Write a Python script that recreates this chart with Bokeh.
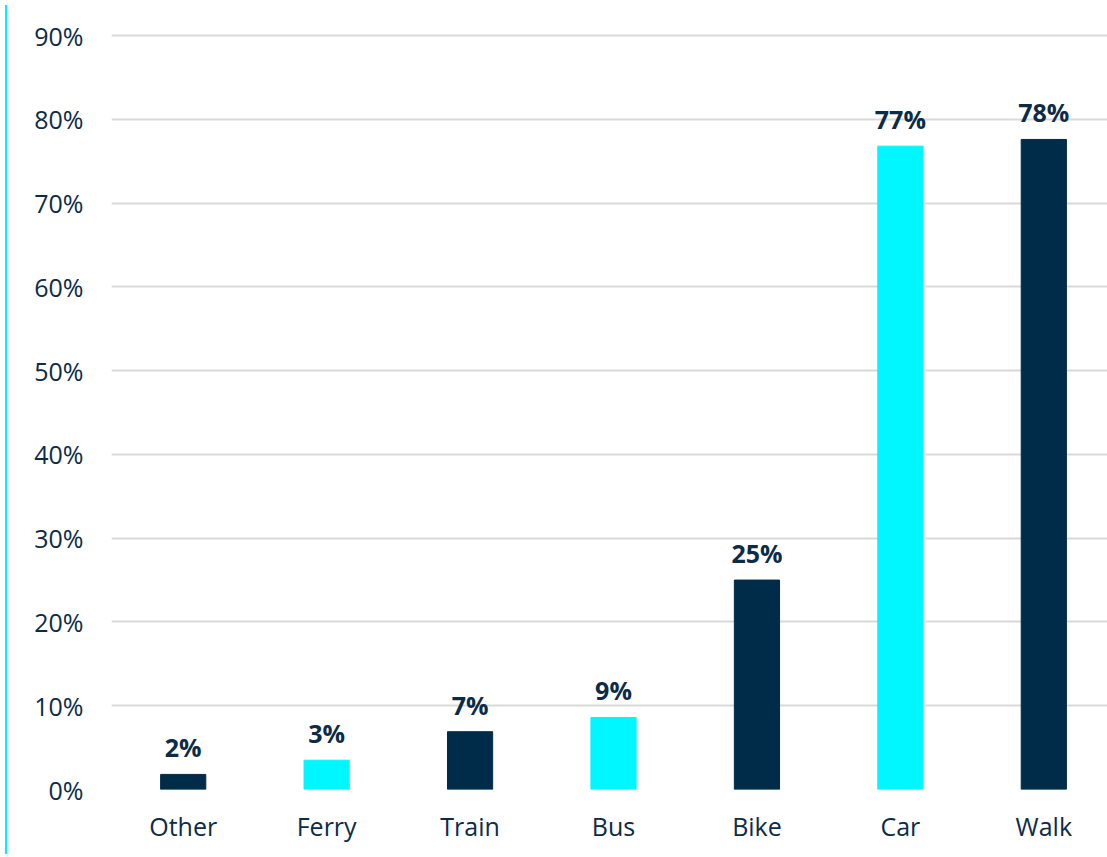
from bokeh.plotting import figure
from bokeh.models import Range1d, FixedTicker, Div, ColumnDataSource
from bokeh.layouts import row
from bokeh.embed import file_html
from bokeh.resources import INLINE
from bokeh.core.properties import value

categories = ["Other", "Ferry", "Train", "Bus", "Bike", "Car", "Walk"]
shares = [1.8, 3.5, 6.9, 8.6, 25.0, 76.8, 77.6]
labels = ["2%", "3%", "7%", "9%", "25%", "77%", "78%"]
colors = ["#002b49", "#00f7ff", "#002b49", "#00f7ff", "#002b49", "#00f7ff", "#002b49"]
y_ticks = [0, 10, 20, 30, 40, 50, 60, 70, 80, 90]

NAVY_TEXT = "#0b2b47"
FONT = "Open Sans"

xs = list(range(len(categories)))
src = ColumnDataSource(dict(x=xs, top=shares, label=labels, color=colors))

p = figure(width=1097, height=849, output_backend="svg", toolbar_location=None,
           x_range=Range1d(-0.5, 6.458), y_range=Range1d(0, 91.8),
           min_border_left=99, min_border_right=0, min_border_top=20, min_border_bottom=60)
p.outline_line_color = None
p.background_fill_color = "white"

p.vbar(x="x", top="top", width=0.315, color="color", source=src)
p.text(x="x", y="top", text="label", source=src, text_align="center",
       text_baseline="alphabetic", y_offset=-27, text_font=value(FONT),
       text_font_size="25px", text_font_style="bold", text_color=NAVY_TEXT)

p.xaxis.ticker = FixedTicker(ticks=xs)
p.xaxis.major_label_overrides = {i: c for i, c in enumerate(categories)}
p.yaxis.ticker = FixedTicker(ticks=y_ticks)
p.yaxis.major_label_overrides = {t: f"{t}%" for t in y_ticks}

for ax in (p.xaxis[0], p.yaxis[0]):
    ax.axis_line_color = None
    ax.major_tick_line_color = None
    ax.minor_tick_line_color = None
    ax.major_tick_out = 0
    ax.major_tick_in = 0
    ax.major_label_text_font = FONT
    ax.major_label_text_font_size = "25px"
    ax.major_label_text_color = NAVY_TEXT
p.yaxis.major_label_standoff = 28
p.xaxis.major_label_standoff = 19

p.xgrid.grid_line_color = None
p.ygrid.ticker = FixedTicker(ticks=y_ticks)
p.ygrid.grid_line_color = "#d9d9d9"
p.ygrid.grid_line_width = 2

line = Div(text="", width=2, height=849, styles={"background-color": "#00f0ff"})
layout = row(line, p, spacing=0)

open("out.html", "w").write(file_html(layout, INLINE))
